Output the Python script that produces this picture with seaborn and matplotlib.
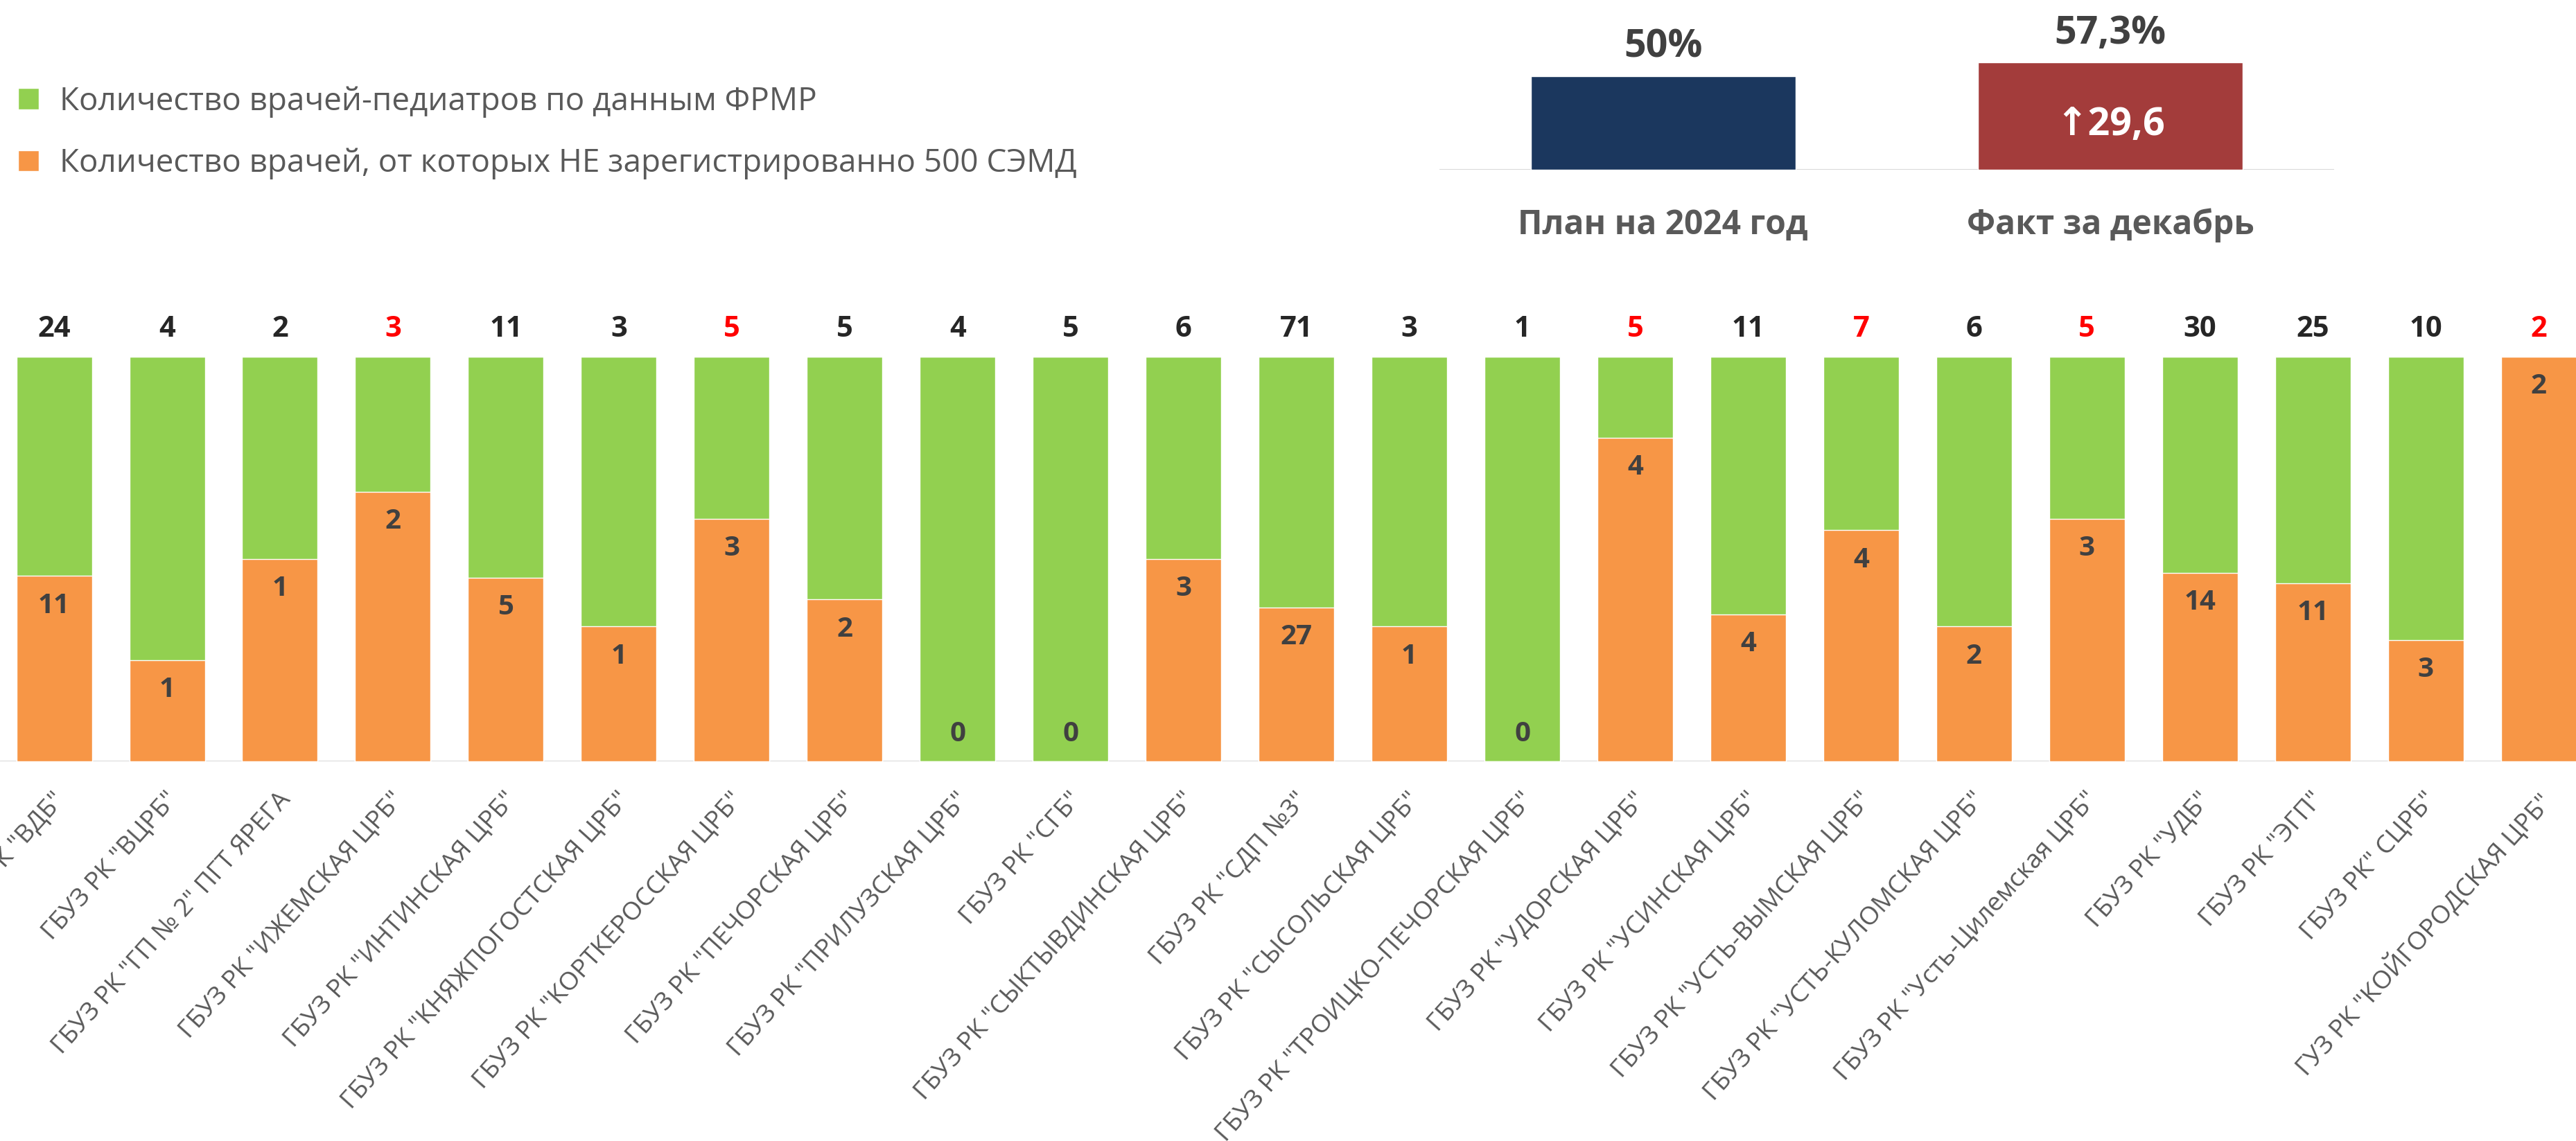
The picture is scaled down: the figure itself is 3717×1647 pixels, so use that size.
import pandas as pd
import matplotlib
matplotlib.use("Agg")
import matplotlib.pyplot as plt
import seaborn as sns

# --- data ---
names = [
    'ГБУЗ РК "ВДБ"', 'ГБУЗ РК "ВЦРБ"', 'ГБУЗ РК "ГП № 2" ПГТ ЯРЕГА',
    'ГБУЗ РК "ИЖЕМСКАЯ ЦРБ"', 'ГБУЗ РК "ИНТИНСКАЯ ЦРБ"',
    'ГБУЗ РК "КНЯЖПОГОСТСКАЯ ЦРБ"', 'ГБУЗ РК "КОРТКЕРОССКАЯ ЦРБ"',
    'ГБУЗ РК "ПЕЧОРСКАЯ ЦРБ"', 'ГБУЗ РК "ПРИЛУЗСКАЯ ЦРБ"', 'ГБУЗ РК "СГБ"',
    'ГБУЗ РК "СЫКТЫВДИНСКАЯ ЦРБ"', 'ГБУЗ РК "СДП №3"',
    'ГБУЗ РК "СЫСОЛЬСКАЯ ЦРБ"', 'ГБУЗ РК "ТРОИЦКО-ПЕЧОРСКАЯ ЦРБ"',
    'ГБУЗ РК "УДОРСКАЯ ЦРБ"', 'ГБУЗ РК "УСИНСКАЯ ЦРБ"',
    'ГБУЗ РК "УСТЬ-ВЫМСКАЯ ЦРБ"', 'ГБУЗ РК "УСТЬ-КУЛОМСКАЯ ЦРБ"',
    'ГБУЗ РК "Усть-Цилемская ЦРБ"', 'ГБУЗ РК "УДБ"', 'ГБУЗ РК "ЭГП"',
    'ГБУЗ РК" СЦРБ"', 'ГУЗ РК "КОЙГОРОДСКАЯ ЦРБ"',
]
total_doctors = [24, 4, 2, 3, 11, 3, 5, 5, 4, 5, 6, 71, 3, 1, 5, 11, 7, 6, 5, 30, 25, 10, 2]
not_registered = [11, 1, 1, 2, 5, 1, 3, 2, 0, 0, 3, 27, 1, 0, 4, 4, 4, 2, 3, 14, 11, 3, 2]

plan_labels = ["План на 2024 год", "Факт за декабрь"]
plan_values = [50, 57.3]
plan_text = ["50%", "57,3%"]
growth_text = "↑29,6"

legend_green = "Количество врачей-педиатров по данным ФРМР"
legend_orange = "Количество врачей, от которых НЕ зарегистрированно 500 СЭМД"

GREEN = "#92D050"
ORANGE = "#F79646"
NAVY = "#1B375E"
DARKRED = "#A33C3B"

df = pd.DataFrame({"name": names, "total": total_doctors, "bad": not_registered})
df["full"] = df["total"] / df["total"]
df["share"] = df["bad"] / df["total"]

sns.set_style("white")
plt.rcParams["font.family"] = ["Open Sans", "DejaVu Sans"]

fig = plt.figure(figsize=(37.17, 16.47), dpi=100)

# main 100% stacked chart
ax = fig.add_axes([0.0, 0.3327, 1.0, 0.4123])
sns.barplot(data=df, x="name", y="full", color=GREEN, saturation=1, width=0.669,
            errorbar=None, ax=ax, label=legend_green)
sns.barplot(data=df, x="name", y="share", color=ORANGE, saturation=1, width=0.669,
            errorbar=None, ax=ax, label=legend_orange)
ax.set_xlim(-0.479, 22.33)
ax.set_ylim(0, 1.163)
ax.axhline(0, color="#D9D9D9", lw=2.2, zorder=0)
sns.despine(ax=ax, left=True, bottom=True)
ax.set_xticks([])
ax.set_yticks([])
ax.set_xlabel("")
ax.set_ylabel("")
if ax.get_legend():
    ax.get_legend().remove()

# totals on top (red when more than half did not register), counts inside
for i, row in df.iterrows():
    col = "#FF0000" if row["share"] > 0.5 else "#262626"
    ax.text(i, 1.068, str(row["total"]), ha="center", va="center",
            fontsize=30, fontweight="bold", color=col)
    y_in = row["share"] - 0.073 if row["bad"] > 0 else 0.067
    ax.text(i, y_in, str(row["bad"]), ha="center", va="center",
            fontsize=29, fontweight="bold", color="#404040")
    ax.text(i - 0.02, -0.065, row["name"], ha="right", va="top", rotation=48,
            rotation_mode="anchor", fontsize=26.5, color="#595959")

# legend top-left
handles, labels = ax.get_legend_handles_labels()
fig.legend(handles, labels, loc="upper left", bbox_to_anchor=(0.007, 0.925),
           frameon=False, fontsize=33, labelcolor="#595959",
           handlelength=0.66, handleheight=0.66, handletextpad=0.65,
           labelspacing=0.95, borderpad=0, borderaxespad=0)

# small plan / fact chart
ax2 = fig.add_axes([0.5588, 0.8512, 0.3473, 0.1488])
sns.barplot(x=plan_labels, y=plan_values, hue=plan_labels, palette=[NAVY, DARKRED],
            saturation=1, width=0.592, legend=False, ax=ax2)
ax2.set_xlim(-0.5, 1.5)
ax2.set_ylim(0, 90.6)
ax2.axhline(0, color="#D9D9D9", lw=2.2, zorder=0)
sns.despine(ax=ax2, left=True, bottom=True)
ax2.set_xticks([])
ax2.set_yticks([])
ax2.set_xlabel("")
ax2.set_ylabel("")
for i, v in enumerate(plan_values):
    ax2.text(i, v + 15.5, plan_text[i], ha="center", va="center",
             fontsize=40, fontweight="bold", color="#404040")
    ax2.text(i, -29.5, plan_labels[i], ha="center", va="center",
             fontsize=34.5, fontweight="bold", color="#595959", clip_on=False)
ax2.text(1, 24, growth_text, ha="center", va="center", fontsize=40,
         fontweight="bold", color="white")

fig.savefig("out.png", dpi=100)
